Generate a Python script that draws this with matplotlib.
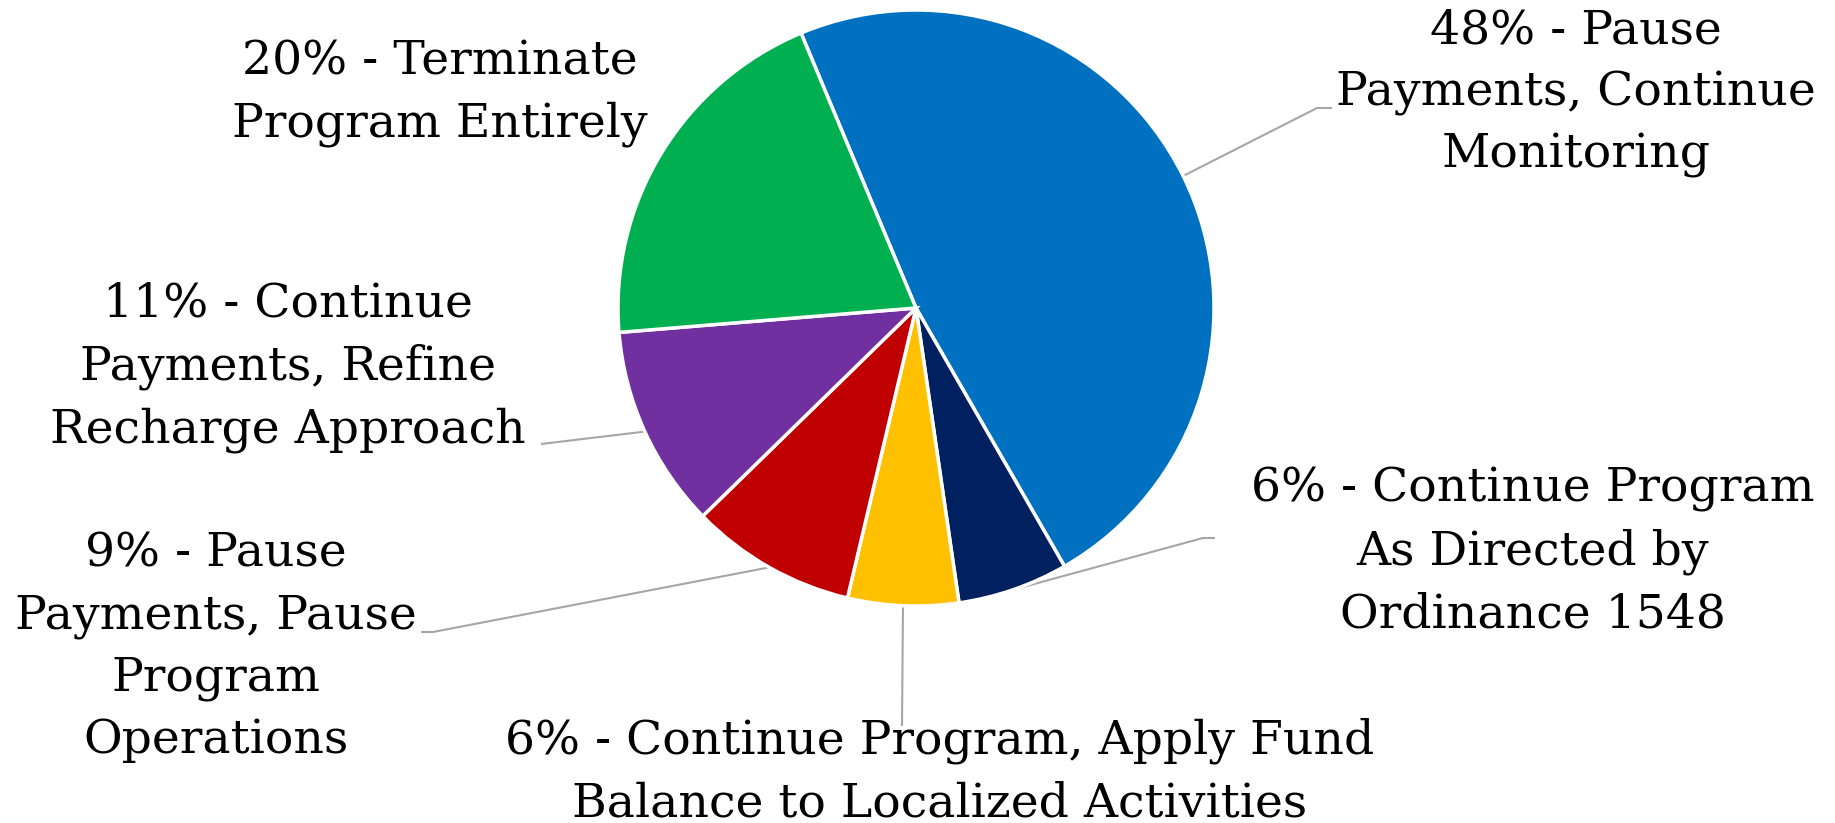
import numpy as np
import matplotlib
matplotlib.use("Agg")
import matplotlib.pyplot as plt

# ---- data ----
labels = [
    "48% - Pause\nPayments, Continue\nMonitoring",
    "6% - Continue Program\nAs Directed by\nOrdinance 1548",
    "6% - Continue Program, Apply Fund\nBalance to Localized Activities",
    "9% - Pause\nPayments, Pause\nProgram\nOperations",
    "11% - Continue\nPayments, Refine\nRecharge Approach",
    "20% - Terminate\nProgram Entirely",
]
values = [48, 6, 6, 9, 11, 20]
colors = ["#0070C0", "#002060", "#FFC000", "#C00000", "#7030A0", "#00B050"]

# ---- layout (pixel units, y up) ----
W, H = 1835, 823
cx, cy, R = 916, 515, 298
label_pos = [(1576, 730), (1533, 271), (940, 51), (216, 176), (288, 456), (440, 730)]
leaders = [
    [(1317, 715), (1332, 715)],
    [(1203, 285), (1215, 285)],
    [(902, 97)],
    [(433, 191), (421, 191)],
    [(541, 379)],
    None,
]

fig = plt.figure(figsize=(W / 100, H / 100), dpi=100)
ax = fig.add_axes([0, 0, 1, 1])
wedges, _ = ax.pie(values, colors=colors, startangle=112.7, counterclock=False,
                   center=(cx, cy), radius=R,
                   wedgeprops=dict(edgecolor="white", linewidth=2.5))
ax.set_xlim(0, W)
ax.set_ylim(0, H)
ax.set_aspect("equal")
ax.axis("off")

for w, lab, pos, path in zip(wedges, labels, label_pos, leaders):
    if path is not None:
        mid = np.deg2rad((w.theta1 + w.theta2) / 2)
        sx, sy = cx + R * np.cos(mid), cy + R * np.sin(mid)
        xs = [sx] + [p[0] for p in path]
        ys = [sy] + [p[1] for p in path]
        ax.plot(xs, ys, color="#A6A6A6", lw=1.5, zorder=0.5, solid_capstyle="butt")
    ax.text(pos[0], pos[1], lab, ha="center", va="center", fontsize=34,
            family="DejaVu Serif", color="black", linespacing=1.47, multialignment="center")

fig.savefig("out.png", dpi=100, facecolor="white")
